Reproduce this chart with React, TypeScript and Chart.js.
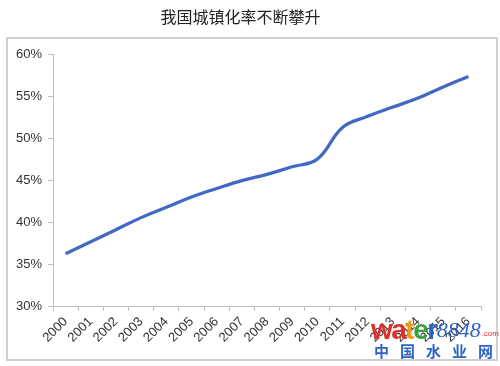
import React, { useEffect, useRef } from 'react';
import { Chart, registerables } from 'chart.js';

Chart.register(...registerables);

const titleText = '我国城镇化率不断攀升';
const years = ['2000', '2001', '2002', '2003', '2004', '2005', '2006', '2007', '2008', '2009', '2010', '2011', '2012', '2013', '2014', '2015', '2016'];
const urbanRate = [36.22, 37.66, 39.09, 40.53, 41.76, 42.99, 44.0, 44.94, 45.68, 46.59, 47.5, 51.27, 52.6, 53.7, 54.77, 56.1, 57.35];
const yMin = 30;
const yMax = 60;
const yStep = 5;

const framePlugin = {
  id: 'frame',
  beforeDraw(chart: any) {
    const ctx = chart.ctx;
    ctx.save();
    ctx.fillStyle = '#ffffff';
    ctx.fillRect(0, 0, chart.width, chart.height);
    ctx.strokeStyle = '#cfcfcf';
    ctx.lineWidth = 2;
    ctx.strokeRect(7, 38, 490, 322);
    ctx.restore();
  },
  afterDraw(chart: any) {
    const ctx = chart.ctx;
    ctx.save();
    // watermark
    const letters = [
      { t: 'w', c: '#e0302a' },
      { t: 'a', c: '#e0302a' },
      { t: 't', c: '#f29a1e' },
      { t: 'e', c: '#3aa23a' },
      { t: 'r', c: '#2f63c4' },
    ];
    ctx.font = 'bold 28px "Liberation Sans", Arial, sans-serif';
    ctx.textBaseline = 'alphabetic';
    let x = 371;
    for (const l of letters) {
      ctx.fillStyle = l.c;
      ctx.fillText(l.t, x, 339);
      x += ctx.measureText(l.t).width - 1.5;
    }
    ctx.font = 'italic 22px "Liberation Serif", serif';
    ctx.fillStyle = '#2f63c4';
    ctx.fillText('8848', x, 337);
    const w8 = ctx.measureText('8848').width;
    ctx.font = '8px "Liberation Sans", Arial, sans-serif';
    ctx.fillStyle = '#e0302a';
    ctx.fillText('.com', x + w8 + 1, 336);
    ctx.font = 'bold 15px "Noto Sans CJK SC", sans-serif';
    ctx.fillStyle = '#2f63c4';
    const cn = ['中', '国', '水', '业', '网'];
    cn.forEach((c, i) => ctx.fillText(c, 374 + i * 26, 357));
    ctx.restore();
  },
};

export default function App() {
  const ref = useRef<HTMLCanvasElement | null>(null);
  useEffect(() => {
    if (!ref.current) return;
    const chart = new Chart(ref.current, {
      type: 'line',
      data: {
        labels: years,
        datasets: [
          {
            data: urbanRate,
            borderColor: '#4169c4',
            borderWidth: 3.2,
            pointRadius: 0,
            tension: 0.4,
            fill: false,
          },
        ],
      },
      plugins: [framePlugin],
      options: {
        animation: false,
        responsive: false,
        devicePixelRatio: 1,
        layout: { padding: { left: 0, right: 19, top: 0, bottom: 0 } },
        plugins: {
          legend: { display: false },
          tooltip: { enabled: false },
          title: {
            display: true,
            text: titleText,
            color: '#222222',
            font: { family: '"Noto Sans CJK SC", sans-serif', size: 16, weight: 'normal' as any, lineHeight: 1.2 },
            padding: { top: 7, bottom: 28 },
          },
        },
        scales: {
          x: {
            type: 'category',
            offset: true,
            grid: { display: true, offset: true, drawOnChartArea: false, drawTicks: true, tickLength: 5, color: '#bfbfbf' },
            border: { display: true, color: '#bfbfbf' },
            ticks: {
              autoSkip: false,
              maxRotation: 45,
              minRotation: 45,
              padding: 3,
              color: '#333333',
              font: { family: '"Liberation Sans", Arial, sans-serif', size: 13 },
            },
            afterFit(scale: any) {
              scale.height = 60;
            },
          },
          y: {
            min: yMin,
            max: yMax,
            grid: { display: true, drawOnChartArea: false, drawTicks: true, tickLength: 5, color: '#bfbfbf' },
            border: { display: true, color: '#bfbfbf' },
            ticks: {
              stepSize: yStep,
              padding: 6,
              color: '#333333',
              font: { family: '"Liberation Sans", Arial, sans-serif', size: 13 },
              callback: (v: any) => v + '%',
            },
            afterFit(scale: any) {
              scale.width = 53;
            },
          },
        },
      },
    });
    return () => chart.destroy();
  }, []);
  return (
    <div style={{ position: 'fixed', left: 0, top: 0, width: 500, height: 366, background: '#fff' }}>
      <canvas ref={ref} width={500} height={366} style={{ display: 'block', width: 500, height: 366 }} />
    </div>
  );
}
